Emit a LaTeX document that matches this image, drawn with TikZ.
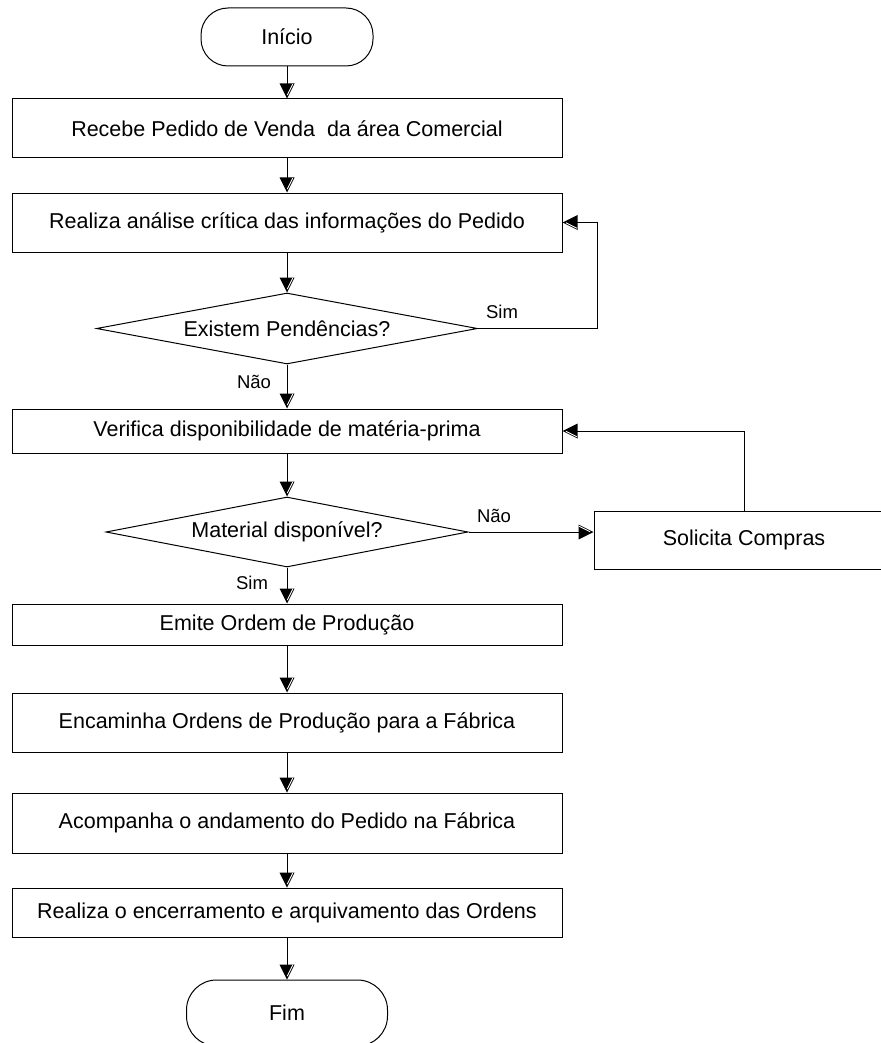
\documentclass[tikz,border=0pt]{standalone}
\usepackage{fontspec}
\setmainfont{Liberation Sans}
\usetikzlibrary{shapes.geometric,calc}

% Solid triangular tip with a thin light seam along one side
\pgfdeclarearrow{
  name = flowtip,
  setup code = {
    \pgfarrowssettipend{0pt}
    \pgfarrowssetlineend{-8pt}
    \pgfarrowssetvisualbackend{-15pt}
    \pgfarrowssetbackend{-15pt}
    \pgfarrowshullpoint{0pt}{0pt}
    \pgfarrowshullpoint{-15pt}{7.5pt}
    \pgfarrowshullpoint{-15pt}{-7.5pt}
  },
  drawing code = {
    \pgfpathmoveto{\pgfpointorigin}
    \pgfpathlineto{\pgfpoint{-15pt}{7.5pt}}
    \pgfpathlineto{\pgfpoint{-15pt}{-7.5pt}}
    \pgfpathclose
    \pgfusepathqfill
    \pgfsetstrokecolor{white}
    \pgfsetlinewidth{0.9pt}
    \pgfpathmoveto{\pgfpoint{-3.4pt}{0.3pt}}
    \pgfpathlineto{\pgfpoint{-14.3pt}{5.7pt}}
    \pgfusepathqstroke
  }
}

\begin{document}
\begin{tikzpicture}[x=1pt,y=-1pt,
  every node/.style={font=\fontsize{21.5}{25}\selectfont, inner sep=0pt},
  box/.style={draw, line width=1pt, rectangle, minimum width=550pt},
  term/.style={draw, line width=1pt, rectangle},
  decision/.style={draw, line width=1pt, diamond},
  tag/.style={font=\fontsize{18.5}{22}\selectfont},
  conn/.style={line width=1pt, -{flowtip}}]

\fill[white] (0,0) rectangle (880,1043);
\useasboundingbox (0,0) rectangle (880,1043);

% main column
\node[term, rounded corners=27pt, minimum width=172pt, minimum height=58pt] (start) at (287,37) {Início};
\node[box, minimum height=59pt] (b1) at (287,128.5) {Recebe Pedido de Venda~~da área Comercial};
\node[box, minimum height=59pt] (b2) at (287,222.5) {Realiza análise crítica das informações do Pedido};
\node[decision, minimum width=381pt, minimum height=71pt, label=center:{Existem Pendências?}] (d1) at (287,328.5) {};
\node[box, minimum height=44pt] (b3) at (287,431) {Verifica disponibilidade de matéria-prima};
\node[decision, minimum width=362pt, minimum height=70pt, label=center:{Material disponível?}] (d2) at (287,532) {};
\node[box, minimum height=41pt] (b4) at (287,624.5) {Emite Ordem de Produção};
\node[box, minimum height=59pt] (b5) at (287,722.5) {Encaminha Ordens de Produção para a Fábrica};
\node[box, minimum height=60pt] (b6) at (287,823) {Acompanha o andamento do Pedido na Fábrica};
\node[box, minimum height=49pt] (b7) at (287,912.5) {Realiza o encerramento e arquivamento das Ordens};
\node[term, rounded corners=30pt, minimum width=201pt, minimum height=66pt] (fim) at (287,1013) {Fim};

% side step
\node[draw, line width=1pt, rectangle, minimum width=300pt, minimum height=58pt] (sc) at (744,540) {Solicita Compras};

% return path of the first decision
\coordinate (loop1) at (597,222.5);

% flow
\draw[conn] (start) -- (b1);
\draw[conn] (b1) -- (b2);
\draw[conn] (b2) -- (d1);
\draw[conn] (d1) -- (b3);
\draw[conn] (d1.east) -| (loop1) -- (b2.east);
\draw[conn] (b3) -- (d2);
\draw[conn] (d2.east) -- (d2.east -| sc.west);
\draw[conn] (sc.north) |- (b3.east);
\draw[conn] (d2) -- (b4);
\draw[conn] (b4) -- (b5);
\draw[conn] (b5) -- (b6);
\draw[conn] (b6) -- (b7);
\draw[conn] (b7) -- (fim);

% branch labels
\node[tag] (yes1) at (502,312) {Sim};
\node[tag] (no1) at (254,382) {Não};
\node[tag] (no2) at (494,516) {Não};
\node[tag] (yes2) at (252,583) {Sim};
\end{tikzpicture}
\end{document}
